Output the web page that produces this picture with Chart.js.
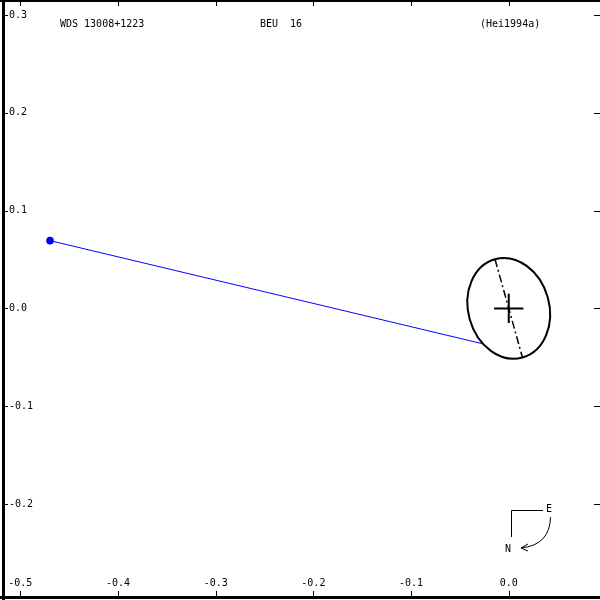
<!DOCTYPE html>
<html>
<head>
<meta charset="utf-8">
<script src="https://cdn.jsdelivr.net/npm/chart.js@4"></script>
<style>
  html, body { margin: 0; padding: 0; background: #fff; }
  canvas { display: block; }
</style>
</head>
<body>
<canvas id="orbitChart" width="600" height="600"></canvas>
<script>
// axis ticks
const xTicks = [-0.5, -0.4, -0.3, -0.2, -0.1, 0.0];
const yTicks = [0.3, 0.2, 0.1, 0.0, -0.1, -0.2];
const xTickLabels = ["-0.5", "-0.4", "-0.3", "-0.2", "-0.1", "0.0"];
const yTickLabels = ["0.3", "0.2", "0.1", "0.0", "-0.1", "-0.2"];

// measurement: (x, y) of observed position and end of residual line
const obsX = [-0.4696, -0.0261];
const obsY = [0.0693, -0.0363];

// error ellipse around the primary: center, semi-axes (data units), tilt (deg)
const ellipseCenter = [0.0, 0.0];
const ellipseAxes = [0.0415, 0.0522];
const ellipseTilt = -15.6;
const crossSize = 0.015;

// header texts
const headerTexts = ["WDS 13008+1223", "BEU  16", "(Hei1994a)"];

const FONT = '10px "DejaVu Sans Mono", monospace';

const framePlugin = {
    id: "frame",
    afterDatasetsDraw(chart) {
        const { ctx, scales } = chart;
        const xs = scales.x, ys = scales.y;
        const W = chart.width, H = chart.height;

        ctx.save();

        // error ellipse
        const cx = xs.getPixelForValue(ellipseCenter[0]);
        const cy = ys.getPixelForValue(ellipseCenter[1]);
        const rx = xs.getPixelForValue(ellipseAxes[0]) - xs.getPixelForValue(0);
        const ry = ys.getPixelForValue(0) - ys.getPixelForValue(ellipseAxes[1]);
        const rot = ellipseTilt * Math.PI / 180;
        ctx.strokeStyle = "#000";
        ctx.lineWidth = 2;
        ctx.beginPath();
        ctx.ellipse(cx, cy, rx, ry, rot, 0, Math.PI * 2);
        ctx.stroke();

        // dash-dot major axis
        const dx = -Math.sin(rot) * ry, dy = Math.cos(rot) * ry;
        ctx.lineWidth = 1.5;
        ctx.setLineDash([8, 3, 2, 3]);
        ctx.beginPath();
        ctx.moveTo(cx - dx, cy - dy);
        ctx.lineTo(cx + dx, cy + dy);
        ctx.stroke();
        ctx.setLineDash([]);

        // cross at primary
        const cs = xs.getPixelForValue(crossSize) - xs.getPixelForValue(0);
        ctx.lineWidth = 2;
        ctx.beginPath();
        ctx.moveTo(cx - cs, cy);
        ctx.lineTo(cx + cs, cy);
        ctx.moveTo(cx, cy - cs);
        ctx.lineTo(cx, cy + cs);
        ctx.stroke();

        // frame: top, left, bottom
        ctx.fillStyle = "#000";
        ctx.fillRect(0, 0, W, 2);
        ctx.fillRect(2, 0, 3, H);
        ctx.fillRect(0, 596, W, 3);

        // ticks and labels
        ctx.lineWidth = 1;
        ctx.font = FONT;
        ctx.beginPath();
        xTicks.forEach((v) => {
            const px = Math.round(xs.getPixelForValue(v)) + 0.5;
            ctx.moveTo(px, 2); ctx.lineTo(px, 6);
            ctx.moveTo(px, 596); ctx.lineTo(px, 591);
        });
        yTicks.forEach((v) => {
            const py = Math.round(ys.getPixelForValue(v)) + 0.5;
            ctx.moveTo(5, py); ctx.lineTo(8, py);
            ctx.moveTo(594, py); ctx.lineTo(600, py);
        });
        ctx.stroke();

        ctx.textAlign = "center";
        ctx.textBaseline = "middle";
        xTicks.forEach((v, i) => {
            ctx.fillText(xTickLabels[i], xs.getPixelForValue(v), 583);
        });
        ctx.textAlign = "left";
        yTicks.forEach((v, i) => {
            ctx.fillText(yTickLabels[i], 9, ys.getPixelForValue(v));
        });

        // header
        ctx.fillText(headerTexts[0], 60, 24);
        ctx.fillText(headerTexts[1], 260, 24);
        ctx.fillText(headerTexts[2], 480, 24);

        // compass
        ctx.beginPath();
        ctx.moveTo(543, 510.5); ctx.lineTo(511.5, 510.5); ctx.lineTo(511.5, 537);
        ctx.stroke();
        ctx.textAlign = "center";
        ctx.fillText("E", 549, 509);
        ctx.fillText("N", 508, 549);
        ctx.beginPath();
        ctx.moveTo(550.5, 517);
        ctx.quadraticCurveTo(550, 545, 521, 548);
        ctx.moveTo(521, 548); ctx.lineTo(528, 544);
        ctx.moveTo(521, 548); ctx.lineTo(528, 551);
        ctx.stroke();

        ctx.restore();
    }
};

new Chart(document.getElementById("orbitChart"), {
    type: "scatter",
    data: {
        datasets: [{
            data: obsX.map((x, i) => ({ x, y: obsY[i] })),
            showLine: true,
            borderColor: "#0000ff",
            borderWidth: 1,
            backgroundColor: "#0000ff",
            pointBackgroundColor: "#0000ff",
            pointBorderWidth: 0,
            pointRadius: [3.8, 0],
        }]
    },
    options: {
        responsive: false,
        animation: false,
        layout: { padding: 0, autoPadding: false },
        plugins: { legend: { display: false }, tooltip: { enabled: false } },
        scales: {
            x: { type: "linear", display: false, min: -0.52078, max: 0.09341 },
            y: { type: "linear", display: false, min: -0.29816, max: 0.31534 }
        }
    },
    plugins: [framePlugin]
});
</script>
</body>
</html>
